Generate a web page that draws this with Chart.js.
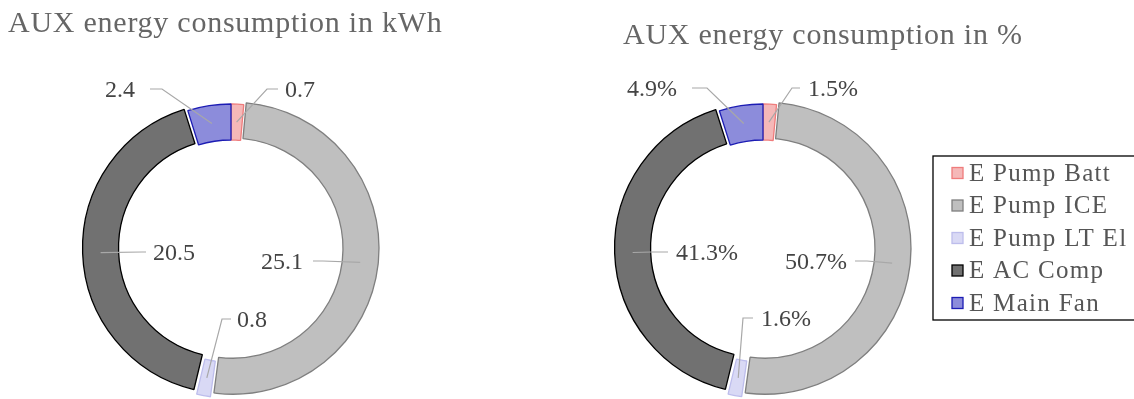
<!DOCTYPE html>
<html>
<head>
<meta charset="utf-8">
<title>AUX energy consumption</title>
<script src="https://cdn.jsdelivr.net/npm/chart.js@4/dist/chart.umd.min.js"></script>
<style>
  html, body { margin: 0; padding: 0; background: #ffffff; }
  #wrap { position: relative; width: 1134px; height: 399px; overflow: hidden; }
  .panel { position: absolute; top: 0; width: 567px; height: 399px; }
  canvas { display: block; }
</style>
</head>
<body>
<div id="wrap">
  <div class="panel" style="left:0"><canvas id="kwh" width="567" height="399"></canvas></div>
  <div class="panel" style="left:567px"><canvas id="pct" width="567" height="399"></canvas></div>
</div>
<script>
// ---- data ----
const categories = ['E Pump Batt', 'E Pump ICE', 'E Pump LT El', 'E AC Comp', 'E Main Fan'];
const energyKWh  = [0.7, 25.1, 0.8, 20.5, 2.4];
const energyPct  = [1.5, 50.7, 1.6, 41.3, 4.9];

// ---- styles ----
const FONT = '"Liberation Serif", "DejaVu Serif", serif';
const sliceFill   = ['#f5b8b8', '#bfbfbf', '#d9d9f5', '#717171', '#8c8cdb'];
const sliceBorder = ['#ef7c7c', '#7f7f7f', '#bdbdec', '#000000', '#1c1cb4'];
const sliceOffset = [0, 8, 13, 12, 0];

// callout layout (pixels relative to the doughnut centre)
const kwhCallouts = [
  { elbow: [36, -159],  end: 47,  textX: 54,  align: 'left'  },
  { elbow: [92, 13],    end: 82,  textX: 72,  align: 'right' },
  { elbow: [-9, 71],    end: 0,   textX: 6,   align: 'left'  },
  { elbow: [-89, 4],    end: -85, textX: -78, align: 'left'  },
  { elbow: [-69, -159], end: -81, textX: -96, align: 'right' }
];
const pctCallouts = [
  { elbow: [29, -160],  end: 37,  textX: 45,  align: 'left'  },
  { elbow: [104, 13],   end: 92,  textX: 84,  align: 'right' },
  { elbow: [-20, 70],   end: -10, textX: -2,  align: 'left'  },
  { elbow: [-111, 4],   end: -95, textX: -87, align: 'left'  },
  { elbow: [-56, -160], end: -71, textX: -86, align: 'right' }
];

// Title, leader-line labels and an optional boxed legend
const panelText = {
  id: 'panelText',
  afterDraw(chart, args, opts) {
    const ctx = chart.ctx;
    const meta = chart.getDatasetMeta(0);
    const ds = chart.data.datasets[0];
    ctx.save();

    // title
    ctx.font = '30px ' + FONT;
    ctx.letterSpacing = '0.75px';
    ctx.fillStyle = '#666666';
    ctx.textAlign = 'left';
    ctx.textBaseline = 'alphabetic';
    ctx.fillText(opts.title, opts.titleX, opts.titleY);
    ctx.letterSpacing = '0px';

    // callouts
    ctx.font = '24px ' + FONT;
    meta.data.forEach((arc, i) => {
      const p = arc.getProps(['x', 'y', 'startAngle', 'endAngle', 'innerRadius', 'outerRadius', 'circumference']);
      const off = (arc.options.offset || 0) / 4;
      const fix = 1 - Math.sin(Math.min(Math.PI, p.circumference));
      const mid = (p.startAngle + p.endAngle) / 2;
      const r = (p.innerRadius + p.outerRadius) / 2 + off * (1 + fix);
      const ax = p.x + Math.cos(mid) * r;
      const ay = p.y + Math.sin(mid) * r;
      const c = opts.callouts[i];
      const ex = p.x + c.elbow[0], ey = p.y + c.elbow[1];
      ctx.strokeStyle = '#a8a8a8';
      ctx.lineWidth = 1.2;
      ctx.beginPath();
      ctx.moveTo(ax, ay);
      ctx.lineTo(ex, ey);
      ctx.lineTo(p.x + c.end, ey);
      ctx.stroke();
      ctx.fillStyle = '#444444';
      ctx.textAlign = c.align;
      ctx.textBaseline = 'alphabetic';
      ctx.fillText(opts.format(ds.data[i]), p.x + c.textX, ey + 8);
    });

    // boxed legend
    if (opts.legend) {
      const L = opts.legend;
      ctx.strokeStyle = '#000000';
      ctx.lineWidth = 1.3;
      ctx.strokeRect(L.x, L.y, L.w, L.h);
      ctx.font = L.fontSize + 'px ' + FONT;
      ctx.letterSpacing = '1.3px';
      ctx.textAlign = 'left';
      ctx.textBaseline = 'alphabetic';
      chart.data.labels.forEach((lab, i) => {
        const cy = L.y + L.first + i * L.step;
        ctx.fillStyle = ds.backgroundColor[i];
        ctx.fillRect(L.x + 19, cy - 5.5, 11, 11);
        ctx.strokeStyle = ds.borderColor[i];
        ctx.lineWidth = 1.3;
        ctx.strokeRect(L.x + 19, cy - 5.5, 11, 11);
        ctx.fillStyle = '#555555';
        ctx.fillText(lab, L.x + 36, cy + 7.5);
      });
      ctx.letterSpacing = '0px';
    }
    ctx.restore();
  }
};

function makeDoughnut(canvasId, values, padding, textOpts) {
  return new Chart(document.getElementById(canvasId), {
    type: 'doughnut',
    data: {
      labels: categories,
      datasets: [{
        data: values,
        backgroundColor: sliceFill,
        borderColor: sliceBorder,
        borderWidth: 1.3,
        offset: sliceOffset,
        hoverOffset: 0
      }]
    },
    options: {
      responsive: false,
      animation: false,
      events: [],
      radius: 144,
      cutout: '75%',
      layout: { padding: padding },
      plugins: {
        legend: { display: false },
        tooltip: { enabled: false },
        panelText: textOpts
      }
    },
    plugins: [panelText]
  });
}

makeDoughnut('kwh', energyKWh,
  { left: 20, right: 125, top: 97, bottom: 0 },
  {
    title: 'AUX energy consumption in kWh', titleX: 8, titleY: 32,
    callouts: kwhCallouts,
    format: v => v.toFixed(1)
  });

makeDoughnut('pct', energyPct,
  { left: 20, right: 195, top: 97, bottom: 0 },
  {
    title: 'AUX energy consumption in %', titleX: 56, titleY: 44,
    callouts: pctCallouts,
    format: v => v.toFixed(1) + '%',
    legend: { x: 366, y: 156, w: 230, h: 164, first: 17, step: 32.5, fontSize: 25 }
  });
</script>
</body>
</html>
